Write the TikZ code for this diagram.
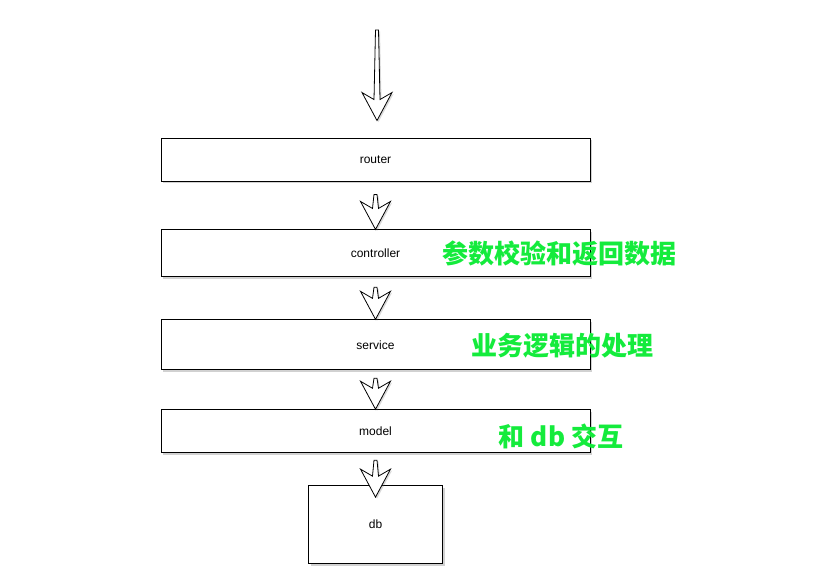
\documentclass[tikz,border=0pt]{standalone}
\usepackage{fontspec}
\setmainfont{Liberation Sans}
\newfontfamily\cjkfont{Noto Sans CJK SC}
\usetikzlibrary{positioning, calc, shadows}
\definecolor{notegreen}{RGB}{20,235,60}

% hollow block arrow from #1 down to its tip at #2
\newcommand{\flowarrow}[2]{%
  \path[flowarr] let \p1=(#1), \p2=(#2) in
    (\x2-1.5pt,\y1) -- (\x2-3pt,\y2+21pt) -- (\x2-15pt,\y2+28pt) -- (\x2,\y2)
    -- (\x2+15pt,\y2+28pt) -- (\x2+3pt,\y2+21pt) -- (\x2+1.5pt,\y1) -- cycle;
}

\begin{document}
\begin{tikzpicture}[x=1pt, y=-1pt,
   box/.style={draw, line width=0.9pt, fill=white, inner sep=0pt,
               font=\fontsize{12}{14}\selectfont,
               minimum width=429pt, minimum height=43pt,
               drop shadow={shadow xshift=2pt, shadow yshift=-2pt,
                            opacity=0.3, fill=black!60}},
   flowarr/.style={draw, fill=white, line width=0.8pt, line join=miter,
                   drop shadow={shadow xshift=1.5pt, shadow yshift=-1.5pt,
                                opacity=0.25, fill=black!60}},
   note/.style={font=\cjkfont\bfseries\fontsize{26}{29}\selectfont,
                text=notegreen, inner sep=0pt}]

  \useasboundingbox (0,0) rectangle (838,585);

  \node[box] (router) at (375.5,159.5) {router};
  \node[box, below=48pt of router, minimum height=47pt] (controller) {controller};
  \node[box, below=42pt of controller, minimum height=50pt] (service) {service};
  \node[box, below=39pt of service] (model) {model};
  \node[box, below=32pt of model, minimum width=134pt, minimum height=78pt] (db) {db};

  \coordinate (entry) at (377,30);
  \coordinate (entrytip) at ($(router.north)+(1.5,-17)$);
  \coordinate (routerout) at ($(router.south)+(0,13)$);
  \coordinate (controllerout) at ($(controller.south)+(0,10)$);
  \coordinate (serviceout) at ($(service.south)+(0,8)$);
  \coordinate (modelout) at ($(model.south)+(0,7)$);
  \coordinate (dbtip) at ($(db.north)+(0,12)$);

  \flowarrow{entry}{entrytip}
  \flowarrow{routerout}{controller.north}
  \flowarrow{controllerout}{service.north}
  \flowarrow{serviceout}{model.north}
  \flowarrow{modelout}{dbtip}

  \node[note] (checknote) at (559,254) {参数校验和返回数据};
  \node[note] (logicnote) at (562,346) {业务逻辑的处理};
  \node[note] (dbnote) at (561,436) {和 db 交互};
\end{tikzpicture}
\end{document}
